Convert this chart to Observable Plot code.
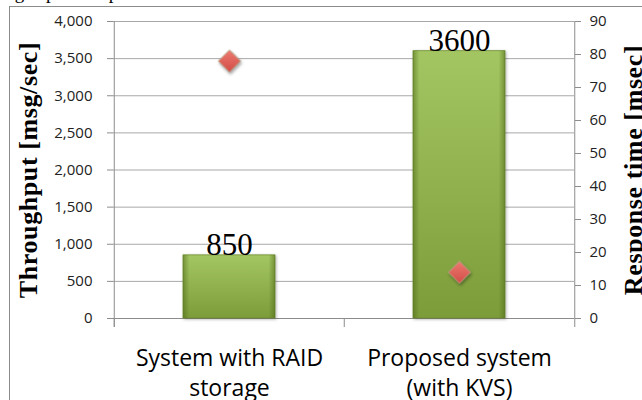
<!DOCTYPE html>
<html>
<head>
<meta charset="utf-8">
<script src="https://cdn.jsdelivr.net/npm/d3@7"></script>
<script src="https://cdn.jsdelivr.net/npm/@observablehq/plot@0.6"></script>
<style>
  body { margin: 0; background: #fff; }
  #wrap { position: relative; width: 642px; height: 400px; overflow: hidden; background: #fff; }
  #cap { position: absolute; left: 0; top: -17px; font: 19px "Liberation Serif", serif; line-height: 19px; white-space: nowrap; color: #000; }
  #border { position: absolute; left: 9px; top: 6px; width: 700px; height: 500px; border: 1px solid #8c8c8c; box-sizing: border-box; }
  #chart { position: absolute; left: 0; top: 0; }
  g[aria-label="y-axis label"] text { font-family: "Liberation Serif", serif; font-weight: bold; font-size: 26px; letter-spacing: 0.6px; fill: #000; }
</style>
</head>
<body>
<div id="wrap">
  <div id="cap">high speed response described in Section 2.</div>
  <div id="border"></div>
  <div id="chart"></div>
</div>
<script>
// ---- data ----
const categories = ["System with RAID\nstorage", "Proposed system\n(with KVS)"];
const throughput = [850, 3600];          // msg/sec (left axis)
const responseTime = [78, 14];           // msec (right axis)
const leftTicks = [0, 500, 1000, 1500, 2000, 2500, 3000, 3500, 4000];
const rightTicks = [0, 10, 20, 30, 40, 50, 60, 70, 80, 90];
const leftLabel = "Throughput [msg/sec]";
const rightLabel = "Response time [msec]";

// ---- layout ----
const W = 642, H = 400;
const mL = 113, mR = 68, mT = 21, mB = 82;
const yMax = leftTicks[leftTicks.length - 1];
const rMax = rightTicks[rightTicks.length - 1];
const k = yMax / rMax; // response-time -> throughput scale factor
const step = (W - mL - mR) / categories.length;

const data = categories.map((c, i) => ({c, t: throughput[i], r: responseTime[i]}));

const chart = Plot.plot({
  width: W, height: H,
  marginLeft: mL, marginRight: mR, marginTop: mT, marginBottom: mB,
  style: {fontFamily: "Open Sans", fontSize: "15px", color: "#222", background: "transparent", overflow: "visible"},
  x: {domain: categories, paddingInner: 0.6, paddingOuter: 0.3},
  y: {domain: [0, yMax]},
  marks: [
    Plot.gridY(leftTicks, {stroke: "#a8a8a8", strokeOpacity: 1}),
    // axis lines and category boundary ticks
    Plot.ruleX([categories[0]], {x: d => d, dx: -step / 2, insetBottom: -9, stroke: "#8c8c8c"}),
    Plot.ruleX([categories[categories.length - 1]], {x: d => d, dx: step / 2, insetBottom: -9, stroke: "#8c8c8c"}),
    Plot.ruleX(categories, {x: d => d, dx: -step / 2, y1: 0, y2: 0, insetBottom: -9, stroke: "#8c8c8c"}),
    Plot.ruleY([0], {stroke: "#8c8c8c"}),
    Plot.axisY(leftTicks, {
      anchor: "left", tickSize: 6, tickPadding: 15, stroke: "#8c8c8c",
      tickFormat: d3.format(","), fill: "#222", letterSpacing: 0.8,
      label: leftLabel, labelAnchor: "center", labelOffset: 95, labelArrow: "none"
    }),
    Plot.axisY(rightTicks.map(v => v * k), {
      anchor: "right", tickSize: 6, tickPadding: 9, stroke: "#8c8c8c",
      tickFormat: d => String(Math.round(d / k)), fill: "#222", letterSpacing: 0.8,
      label: rightLabel, labelAnchor: "center", labelOffset: 67, labelArrow: "none"
    }),
    Plot.axisX({
      tickSize: 0, tickPadding: 26, fontSize: 23, lineHeight: 1.32, fill: "#000", label: null
    }),
    Plot.barY(data, {x: "c", y: "t", fill: "url(#barV)", stroke: "#6f8f30", strokeWidth: 0.8}),
    Plot.barY(data, {x: "c", y: "t", fill: "url(#barH)"}),
    Plot.text(data, {
      x: "c", y: "t", text: d => String(d.t), lineAnchor: "bottom", dy: 0,
      fontSize: 31, fontFamily: "Liberation Serif", fill: "#000"
    }),
    Plot.dot(data, {
      x: "c", y: d => d.r * k, symbol: "diamond2", r: 10,
      fill: "url(#dia)", stroke: "#b9a88a", strokeWidth: 1
    })
  ]
});

const svg = d3.select(chart);
const defs = svg.insert("defs", ":first-child");
defs.html(`
  <linearGradient id="barV" x1="0" y1="0" x2="0" y2="1">
    <stop offset="0" stop-color="#a4c662"/>
    <stop offset="1" stop-color="#7c9c3a"/>
  </linearGradient>
  <linearGradient id="barH" x1="0" y1="0" x2="1" y2="0">
    <stop offset="0" stop-color="#4d6a17" stop-opacity="0.55"/>
    <stop offset="0.07" stop-color="#4d6a17" stop-opacity="0"/>
    <stop offset="0.93" stop-color="#4d6a17" stop-opacity="0"/>
    <stop offset="1" stop-color="#4d6a17" stop-opacity="0.55"/>
  </linearGradient>
  <linearGradient id="dia" x1="0" y1="0" x2="0" y2="1">
    <stop offset="0" stop-color="#ec7a70"/>
    <stop offset="1" stop-color="#d24d46"/>
  </linearGradient>
`);
svg.selectAll('g[aria-label="dot"]').style("filter", "drop-shadow(1px 2px 1.5px rgba(0,0,0,0.35))");
svg.selectAll('g[aria-label="bar"]').filter((d, i) => i === 0).style("filter", "drop-shadow(1px 1px 1.5px rgba(0,0,0,0.3))");

document.getElementById("chart").appendChild(chart);
</script>
</body>
</html>
